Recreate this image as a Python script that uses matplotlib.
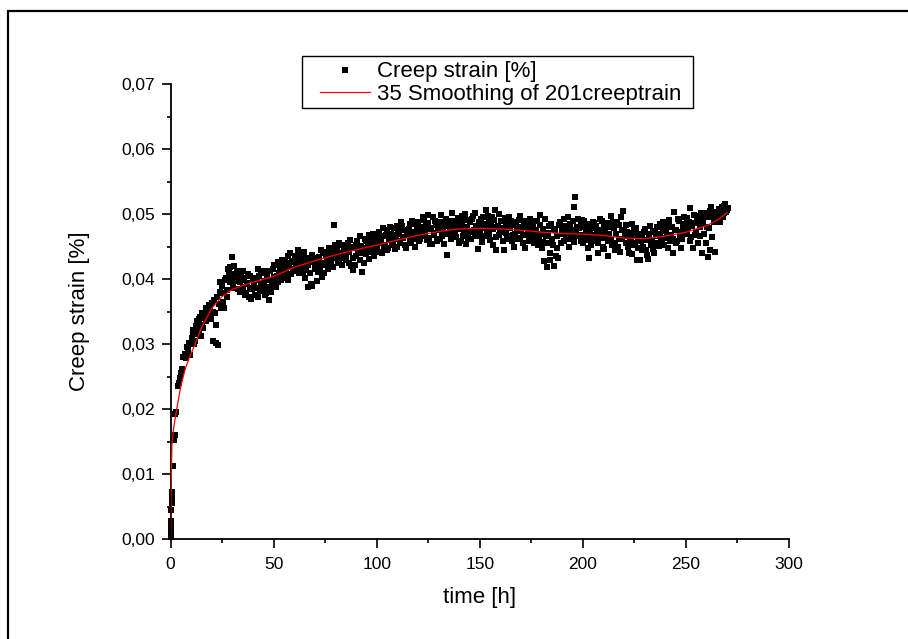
import matplotlib
matplotlib.use("Agg")
import matplotlib.pyplot as plt
from matplotlib.lines import Line2D
from matplotlib.patches import Rectangle
from matplotlib.ticker import MultipleLocator

plt.rcParams['font.family'] = ['Liberation Sans', 'DejaVu Sans']

# ---------------- data ----------------
# readings, first set
time_h = [
    0.0, 0.1, 0.2, 0.3, 0.4, 0.5, 0.6, 0.7, 0.8, 1.2, 1.6, 2.0, 2.4, 2.8, 3.5, 4.0, 4.6, 5.2, 5.8, 6.3,
    6.9, 7.5, 8.0, 8.6, 9.2, 9.7,
    10.3, 11.0, 11.8, 12.5, 13.3, 14.0, 14.8, 15.5, 16.3, 17.0,
    17.8, 18.5, 19.3, 20.0, 20.8, 21.5, 22.3, 23.0, 23.8, 24.5,
    25.3, 26.0, 26.8, 27.5, 28.3, 29.0, 29.8, 30.5, 31.3, 32.0,
    32.8, 33.5, 34.3, 35.0, 35.8, 36.5, 37.3, 38.0, 38.8, 39.5,
    40.3, 41.0, 41.8, 42.5, 43.3, 44.0, 44.8, 45.5, 46.3, 47.0,
    47.8, 48.5, 49.3, 50.0, 50.8, 51.5, 52.3, 53.0, 53.8, 54.5,
    55.3, 56.0, 56.8, 57.5, 58.3, 59.0, 59.8, 60.5, 61.3, 62.0,
    62.8, 63.5, 64.3, 65.0, 65.8, 66.5, 67.3, 68.0, 68.8, 69.5,
    70.3, 71.0, 71.8, 72.5, 73.3, 74.0, 74.8, 75.5, 76.3, 77.0,
    77.8, 78.5, 79.3, 80.0, 80.8, 81.5, 82.3, 83.0, 83.8, 84.5,
    85.3, 86.0, 86.8, 87.5, 88.3, 89.0, 89.8, 90.5, 91.3, 92.0,
    92.8, 93.5, 94.3, 95.0, 95.8, 96.5, 97.3, 98.0, 98.8, 99.5,
    100.3, 101.0, 101.8, 102.5, 103.3, 104.0, 104.8, 105.5, 106.3, 107.0,
    107.8, 108.5, 109.3, 110.0, 110.8, 111.5, 112.3, 113.0, 113.8, 114.5,
    115.3, 116.0, 116.8, 117.5, 118.3, 119.0, 119.8, 120.5, 121.3, 122.0,
    122.8, 123.5, 124.3, 125.0, 125.8, 126.5, 127.3, 128.0, 128.8, 129.5,
    130.3, 131.0, 131.8, 132.5, 133.3, 134.0, 134.8, 135.5, 136.3, 137.0,
    137.8, 138.5, 139.3, 140.0, 140.8, 141.5, 142.3, 143.0, 143.8, 144.5,
    145.3, 146.0, 146.8, 147.5, 148.3, 149.0, 149.8, 150.5, 151.3, 152.0,
    152.8, 153.5, 154.3, 155.0, 155.8, 156.5, 157.3, 158.0, 158.8, 159.5,
    160.3, 161.0, 161.8, 162.5, 163.3, 164.0, 164.8, 165.5, 166.3, 167.0,
    167.8, 168.5, 169.3, 170.0, 170.8, 171.5, 172.3, 173.0, 173.8, 174.5,
    175.3, 176.0, 176.8, 177.5, 178.3, 179.0, 179.8, 180.5, 181.3, 182.0,
    182.8, 183.5, 184.3, 185.0, 185.8, 186.5, 187.3, 188.0, 188.8, 189.5,
    190.3, 191.0, 191.8, 192.5, 193.3, 194.0, 194.8, 195.5, 196.3, 197.0,
    197.8, 198.5, 199.3, 200.0, 200.8, 201.5, 202.3, 203.0, 203.8, 204.5,
    205.3, 206.0, 206.8, 207.5, 208.3, 209.0, 209.8, 210.5, 211.3, 212.0,
    212.8, 213.5, 214.3, 215.0, 215.8, 216.5, 217.3, 218.0, 218.8, 219.5,
    220.3, 221.0, 221.8, 222.5, 223.3, 224.0, 224.8, 225.5, 226.3, 227.0,
    227.8, 228.5, 229.3, 230.0, 230.8, 231.5, 232.3, 233.0, 233.8, 234.5,
    235.3, 236.0, 236.8, 237.5, 238.3, 239.0, 239.8, 240.5, 241.3, 242.0,
    242.8, 243.5, 244.3, 245.0, 245.8, 246.5, 247.3, 248.0, 248.8, 249.5,
    250.3, 251.0, 251.8, 252.5, 253.3, 254.0, 254.8, 255.5, 256.3, 257.0,
    257.8, 258.5, 259.3, 260.0, 260.8, 261.5, 262.3, 263.0, 263.8, 264.5,
    265.3, 266.0, 266.8, 267.5, 268.3, 269.0, 269.8, 270.5,
]

creep_strain = [
    0.0003, 0.0010, 0.0018, 0.0027, 0.0045, 0.0055, 0.0062, 0.0068, 0.0073, 0.0112, 0.0152, 0.0160, 0.0193, 0.0196, 0.0236, 0.0240, 0.0248, 0.0256, 0.0262, 0.0280,
    0.0284, 0.0278, 0.0295, 0.0292, 0.0302, 0.0283,
    0.0310, 0.0318, 0.0305, 0.0324, 0.0316, 0.0338, 0.0312, 0.0330, 0.0345, 0.0336,
    0.0352, 0.0341, 0.0358, 0.0363, 0.0305, 0.0348, 0.0302, 0.0298, 0.0395, 0.0356,
    0.0378, 0.0355, 0.0402, 0.0372, 0.0411, 0.0419, 0.0434, 0.0388, 0.0408, 0.0400,
    0.0385, 0.0395, 0.0410, 0.0387, 0.0402, 0.0378, 0.0392, 0.0373, 0.0405, 0.0384,
    0.0389, 0.0375, 0.0398, 0.0415, 0.0381, 0.0410, 0.0392, 0.0397, 0.0379, 0.0402,
    0.0368, 0.0412, 0.0390, 0.0421, 0.0395, 0.0405, 0.0395, 0.0418, 0.0424, 0.0402,
    0.0430, 0.0412, 0.0435, 0.0420, 0.0408, 0.0426, 0.0415, 0.0433, 0.0418, 0.0430,
    0.0422, 0.0438, 0.0410, 0.0425, 0.0414, 0.0388, 0.0428, 0.0393, 0.0390, 0.0432,
    0.0420, 0.0397, 0.0434, 0.0418, 0.0403, 0.0440, 0.0425, 0.0442, 0.0416, 0.0436,
    0.0428, 0.0445, 0.0483, 0.0432, 0.0448, 0.0425, 0.0440, 0.0452, 0.0436, 0.0444,
    0.0430, 0.0455, 0.0441, 0.0420, 0.0414, 0.0450, 0.0436, 0.0458, 0.0443, 0.0430,
    0.0411, 0.0447, 0.0462, 0.0438, 0.0455, 0.0468, 0.0442, 0.0452, 0.0436, 0.0465,
    0.0448, 0.0472, 0.0456, 0.0440, 0.0466, 0.0453, 0.0475, 0.0447, 0.0460, 0.0470,
    0.0455, 0.0478, 0.0462, 0.0449, 0.0473, 0.0458, 0.0482, 0.0465, 0.0452, 0.0476,
    0.0468, 0.0484, 0.0456, 0.0473, 0.0462, 0.0485, 0.0470, 0.0458, 0.0480, 0.0466,
    0.0491, 0.0472, 0.0460, 0.0486, 0.0454, 0.0478, 0.0495, 0.0468, 0.0483, 0.0462,
    0.0475, 0.0498, 0.0466, 0.0485, 0.0471, 0.0437, 0.0490, 0.0478, 0.0502, 0.0468,
    0.0483, 0.0465, 0.0494, 0.0477, 0.0458, 0.0488, 0.0470, 0.0500, 0.0480, 0.0463,
    0.0487, 0.0472, 0.0497, 0.0468, 0.0482, 0.0446, 0.0478, 0.0492, 0.0465, 0.0485,
    0.0506, 0.0474, 0.0488, 0.0460, 0.0496, 0.0477, 0.0506, 0.0445, 0.0482, 0.0468,
    0.0490, 0.0472, 0.0445, 0.0485, 0.0466, 0.0495, 0.0478, 0.0458, 0.0488, 0.0470,
    0.0483, 0.0462, 0.0497, 0.0474, 0.0455, 0.0490, 0.0468, 0.0480, 0.0459, 0.0486,
    0.0472, 0.0464, 0.0489, 0.0476, 0.0452, 0.0498, 0.0470, 0.0457, 0.0428, 0.0466,
    0.0418, 0.0482, 0.0440, 0.0461, 0.0420, 0.0475, 0.0448, 0.0432, 0.0488, 0.0456,
    0.0470, 0.0492, 0.0462, 0.0478, 0.0449, 0.0484, 0.0466, 0.0511, 0.0526, 0.0480,
    0.0493, 0.0468, 0.0485, 0.0455, 0.0490, 0.0472, 0.0447, 0.0432, 0.0478, 0.0462,
    0.0486, 0.0458, 0.0473, 0.0440, 0.0492, 0.0466, 0.0450, 0.0481, 0.0463, 0.0435,
    0.0470, 0.0497, 0.0453, 0.0478, 0.0445, 0.0488, 0.0461, 0.0442, 0.0475, 0.0504,
    0.0466, 0.0483, 0.0450, 0.0471, 0.0458, 0.0438, 0.0476, 0.0455, 0.0430, 0.0462,
    0.0429, 0.0468, 0.0450, 0.0477, 0.0445, 0.0431, 0.0463, 0.0452, 0.0472, 0.0440,
    0.0466, 0.0480, 0.0451, 0.0470, 0.0459, 0.0487, 0.0463, 0.0474, 0.0448, 0.0482,
    0.0468, 0.0440, 0.0503, 0.0476, 0.0458, 0.0490, 0.0472, 0.0462, 0.0485, 0.0470,
    0.0494, 0.0478, 0.0510, 0.0464, 0.0448, 0.0486, 0.0473, 0.0497, 0.0490, 0.0466,
    0.0440, 0.0492, 0.0502, 0.0480, 0.0434, 0.0445, 0.0511, 0.0496, 0.0487, 0.0503,
    0.0492, 0.0508, 0.0498, 0.0511, 0.0502, 0.0515, 0.0506, 0.0510,
]

# readings, in-between set
time_h_b = [
    10.7, 11.4, 12.2, 12.9, 13.7, 14.4, 15.2, 15.9, 16.7, 17.4,
    18.2, 18.9, 19.7, 20.4, 21.2, 21.9, 22.7, 23.4, 24.2, 24.9,
    25.7, 26.4, 27.2, 27.9, 28.7, 29.4, 30.2, 30.9, 31.7, 32.4,
    33.2, 33.9, 34.7, 35.4, 36.2, 36.9, 37.7, 38.4, 39.2, 39.9,
    40.7, 41.4, 42.2, 42.9, 43.7, 44.4, 45.2, 45.9, 46.7, 47.4,
    48.2, 48.9, 49.7, 50.4, 51.2, 51.9, 52.7, 53.4, 54.2, 54.9,
    55.7, 56.4, 57.2, 57.9, 58.7, 59.4, 60.2, 60.9, 61.7, 62.4,
    63.2, 63.9, 64.7, 65.4, 66.2, 66.9, 67.7, 68.4, 69.2, 69.9,
    70.7, 71.4, 72.2, 72.9, 73.7, 74.4, 75.2, 75.9, 76.7, 77.4,
    78.2, 78.9, 79.7, 80.4, 81.2, 81.9, 82.7, 83.4, 84.2, 84.9,
    85.7, 86.4, 87.2, 87.9, 88.7, 89.4, 90.2, 90.9, 91.7, 92.4,
    93.2, 93.9, 94.7, 95.4, 96.2, 96.9, 97.7, 98.4, 99.2, 99.9,
    100.7, 101.4, 102.2, 102.9, 103.7, 104.4, 105.2, 105.9, 106.7, 107.4,
    108.2, 108.9, 109.7, 110.4, 111.2, 111.9, 112.7, 113.4, 114.2, 114.9,
    115.7, 116.4, 117.2, 117.9, 118.7, 119.4, 120.2, 120.9, 121.7, 122.4,
    123.2, 123.9, 124.7, 125.4, 126.2, 126.9, 127.7, 128.4, 129.2, 129.9,
    130.7, 131.4, 132.2, 132.9, 133.7, 134.4, 135.2, 135.9, 136.7, 137.4,
    138.2, 138.9, 139.7, 140.4, 141.2, 141.9, 142.7, 143.4, 144.2, 144.9,
    145.7, 146.4, 147.2, 147.9, 148.7, 149.4, 150.2, 150.9, 151.7, 152.4,
    153.2, 153.9, 154.7, 155.4, 156.2, 156.9, 157.7, 158.4, 159.2, 159.9,
    160.7, 161.4, 162.2, 162.9, 163.7, 164.4, 165.2, 165.9, 166.7, 167.4,
    168.2, 168.9, 169.7, 170.4, 171.2, 171.9, 172.7, 173.4, 174.2, 174.9,
    175.7, 176.4, 177.2, 177.9, 178.7, 179.4, 180.2, 180.9, 181.7, 182.4,
    183.2, 183.9, 184.7, 185.4, 186.2, 186.9, 187.7, 188.4, 189.2, 189.9,
    190.7, 191.4, 192.2, 192.9, 193.7, 194.4, 195.2, 195.9, 196.7, 197.4,
    198.2, 198.9, 199.7, 200.4, 201.2, 201.9, 202.7, 203.4, 204.2, 204.9,
    205.7, 206.4, 207.2, 207.9, 208.7, 209.4, 210.2, 210.9, 211.7, 212.4,
    213.2, 213.9, 214.7, 215.4, 216.2, 216.9, 217.7, 218.4, 219.2, 219.9,
    220.7, 221.4, 222.2, 222.9, 223.7, 224.4, 225.2, 225.9, 226.7, 227.4,
    228.2, 228.9, 229.7, 230.4, 231.2, 231.9, 232.7, 233.4, 234.2, 234.9,
    235.7, 236.4, 237.2, 237.9, 238.7, 239.4, 240.2, 240.9, 241.7, 242.4,
    243.2, 243.9, 244.7, 245.4, 246.2, 246.9, 247.7, 248.4, 249.2, 249.9,
    250.7, 251.4, 252.2, 252.9, 253.7, 254.4, 255.2, 255.9, 256.7, 257.4,
    258.2, 258.9, 259.7, 260.4, 261.2, 261.9, 262.7, 263.4, 264.2, 264.9,
    265.7, 266.4, 267.2, 267.9, 268.7, 269.4,
]

creep_strain_b = [
    0.0322, 0.0300, 0.0328, 0.0335, 0.0320, 0.0342, 0.0348, 0.0325, 0.0340, 0.0355,
    0.0345, 0.0360, 0.0338, 0.0350, 0.0368, 0.0330, 0.0372, 0.0361, 0.0380, 0.0390,
    0.0365, 0.0398, 0.0383, 0.0415, 0.0395, 0.0405, 0.0386, 0.0420, 0.0397, 0.0412,
    0.0402, 0.0380, 0.0398, 0.0413, 0.0376, 0.0394, 0.0408, 0.0386, 0.0370, 0.0398,
    0.0402, 0.0386, 0.0372, 0.0404, 0.0390, 0.0384, 0.0412, 0.0376, 0.0407, 0.0388,
    0.0398, 0.0380, 0.0415, 0.0403, 0.0388, 0.0426, 0.0410, 0.0398, 0.0430, 0.0416,
    0.0405, 0.0425, 0.0398, 0.0440, 0.0428, 0.0412, 0.0436, 0.0422, 0.0445, 0.0410,
    0.0430, 0.0416, 0.0442, 0.0402, 0.0433, 0.0421, 0.0410, 0.0437, 0.0426, 0.0415,
    0.0432, 0.0411, 0.0426, 0.0444, 0.0422, 0.0409, 0.0437, 0.0428, 0.0447, 0.0420,
    0.0438, 0.0418, 0.0452, 0.0440, 0.0427, 0.0456, 0.0433, 0.0421, 0.0449, 0.0438,
    0.0447, 0.0425, 0.0460, 0.0448, 0.0433, 0.0422, 0.0453, 0.0440, 0.0466, 0.0451,
    0.0440, 0.0425, 0.0458, 0.0447, 0.0431, 0.0461, 0.0450, 0.0470, 0.0444, 0.0457,
    0.0465, 0.0441, 0.0459, 0.0478, 0.0450, 0.0468, 0.0444, 0.0462, 0.0480, 0.0453,
    0.0468, 0.0446, 0.0482, 0.0470, 0.0455, 0.0488, 0.0463, 0.0475, 0.0448, 0.0469,
    0.0477, 0.0460, 0.0490, 0.0465, 0.0449, 0.0475, 0.0487, 0.0461, 0.0473, 0.0495,
    0.0466, 0.0481, 0.0499, 0.0463, 0.0477, 0.0454, 0.0471, 0.0489, 0.0458, 0.0480,
    0.0461, 0.0487, 0.0479, 0.0454, 0.0493, 0.0470, 0.0482, 0.0462, 0.0489, 0.0475,
    0.0470, 0.0490, 0.0456, 0.0484, 0.0497, 0.0466, 0.0479, 0.0454, 0.0491, 0.0473,
    0.0461, 0.0493, 0.0476, 0.0502, 0.0466, 0.0488, 0.0473, 0.0457, 0.0495, 0.0478,
    0.0466, 0.0497, 0.0470, 0.0483, 0.0453, 0.0491, 0.0464, 0.0480, 0.0500, 0.0474,
    0.0479, 0.0458, 0.0494, 0.0471, 0.0482, 0.0461, 0.0490, 0.0468, 0.0450, 0.0485,
    0.0474, 0.0491, 0.0463, 0.0480, 0.0468, 0.0447, 0.0484, 0.0472, 0.0493, 0.0463,
    0.0480, 0.0455, 0.0471, 0.0490, 0.0462, 0.0483, 0.0448, 0.0477, 0.0493, 0.0455,
    0.0471, 0.0430, 0.0485, 0.0452, 0.0477, 0.0436, 0.0466, 0.0483, 0.0455, 0.0475,
    0.0458, 0.0481, 0.0470, 0.0495, 0.0462, 0.0476, 0.0490, 0.0457, 0.0472, 0.0466,
    0.0478, 0.0458, 0.0491, 0.0468, 0.0480, 0.0460, 0.0485, 0.0470, 0.0452, 0.0488,
    0.0468, 0.0482, 0.0455, 0.0475, 0.0463, 0.0490, 0.0446, 0.0472, 0.0486, 0.0459,
    0.0480, 0.0462, 0.0487, 0.0456, 0.0470, 0.0450, 0.0483, 0.0495, 0.0462, 0.0476,
    0.0455, 0.0473, 0.0440, 0.0463, 0.0485, 0.0452, 0.0468, 0.0478, 0.0447, 0.0470,
    0.0458, 0.0445, 0.0472, 0.0460, 0.0437, 0.0469, 0.0481, 0.0458, 0.0446, 0.0474,
    0.0455, 0.0470, 0.0484, 0.0462, 0.0476, 0.0453, 0.0480, 0.0466, 0.0491, 0.0458,
    0.0480, 0.0462, 0.0475, 0.0456, 0.0493, 0.0467, 0.0447, 0.0480, 0.0496, 0.0478,
    0.0470, 0.0488, 0.0458, 0.0482, 0.0499, 0.0468, 0.0492, 0.0455, 0.0480, 0.0501,
    0.0485, 0.0470, 0.0456, 0.0496, 0.0478, 0.0505, 0.0464, 0.0490, 0.0442, 0.0498,
    0.0500, 0.0488, 0.0506, 0.0496, 0.0512, 0.0503,
]

smooth_time_h = [0, 0.3, 0.7, 1.5, 3, 5, 7, 9, 12, 15, 20, 25, 30, 35, 40, 50, 60, 70, 80, 90,
                 100, 110, 120, 130, 140, 150, 160, 170, 180, 190, 200, 210, 220, 230, 240,
                 250, 260, 265, 270]
smooth_strain = [0.0, 0.0080, 0.0145, 0.0170, 0.0200, 0.0235, 0.0260, 0.0278, 0.0300, 0.0325,
                 0.0355, 0.0373, 0.0384, 0.0390, 0.0395, 0.0404, 0.0418, 0.0428, 0.0437, 0.0445,
                 0.0452, 0.0460, 0.0467, 0.0473, 0.0477, 0.0478, 0.0477, 0.0475, 0.0472, 0.0470,
                 0.0469, 0.0467, 0.0463, 0.0462, 0.0466, 0.0472, 0.0482, 0.0490, 0.0502]

x_ticks = [0, 50, 100, 150, 200, 250, 300]
y_ticks = [0.00, 0.01, 0.02, 0.03, 0.04, 0.05, 0.06, 0.07]
y_tick_labels = ["0,00", "0,01", "0,02", "0,03", "0,04", "0,05", "0,06", "0,07"]

series_labels = ["Creep strain [%]", "35 Smoothing of 201creeptrain"]

# ---------------- figure ----------------
W, H = 908, 639
fig = plt.figure(figsize=(W / 100, H / 100), dpi=100)
fig.patch.set_facecolor('white')

def fx(px):
    return px / W

def fy(py):
    return 1 - py / H

ax_left, ax_right, ax_top, ax_bottom = 170.5, 789.0, 84.0, 539.0
ax = fig.add_axes([fx(ax_left), fy(ax_bottom), (ax_right - ax_left) / W, (ax_bottom - ax_top) / H])

all_time = time_h + time_h_b
all_strain = creep_strain + creep_strain_b
ax.plot(all_time, all_strain, linestyle='none', marker='s', markersize=4.2,
        color='black', markeredgewidth=0, clip_on=False, zorder=3)
ax.plot(smooth_time_h, smooth_strain, color='#ff0000', linewidth=0.9, zorder=4)

ax.set_xlim(0, 300)
ax.set_ylim(0, 0.07)
ax.set_xticks(x_ticks)
ax.set_xticklabels([str(v) for v in x_ticks])
ax.set_yticks(y_ticks)
ax.set_yticklabels(y_tick_labels)
ax.xaxis.set_minor_locator(MultipleLocator(25))
ax.yaxis.set_minor_locator(MultipleLocator(0.005))

for s in ['top', 'right']:
    ax.spines[s].set_visible(False)
for s in ['left', 'bottom']:
    ax.spines[s].set_linewidth(1.3)

ax.tick_params(which='major', direction='out', length=6.2, width=1.2, labelsize=12.5)
ax.tick_params(which='minor', direction='out', length=3.2, width=1.2)
ax.tick_params(axis='y', which='major', pad=5)
ax.tick_params(axis='x', which='major', pad=6.5)

# axis titles
fig.text(fx(480), fy(598), "time [h]", ha='center', va='center', fontsize=16)
fig.text(fx(80), fy(311.5), "Creep strain [%]", ha='center', va='center',
         rotation=90, fontsize=16)

# legend (entries via real legend, frame drawn to match the reference box)
h1 = Line2D([], [], linestyle='none', marker='s', markersize=4.1, color='black', markeredgewidth=0)
h2 = Line2D([], [], color='#ff0000', linewidth=0.9)
leg = ax.legend([h1, h2], series_labels, loc='upper left',
                bbox_to_anchor=(fx(320), fy(61.5)), bbox_transform=fig.transFigure,
                frameon=False, borderpad=0, borderaxespad=0, handlelength=2.25,
                handletextpad=0.3, labelspacing=0.05, numpoints=1, fontsize=16)

fig.add_artist(Rectangle((fx(301.7), fy(108)), (693 - 301.7) / W, (108 - 55.7) / H,
                         transform=fig.transFigure, fill=False, edgecolor='black',
                         linewidth=1.0, zorder=5))

# outer frame of the picture
fig.add_artist(Rectangle((fx(7.5), -0.05), 1.2, fy(10.7) + 0.05,
                         transform=fig.transFigure, fill=False, edgecolor='black',
                         linewidth=1.6, zorder=10, clip_on=False))

fig.savefig('out.png', dpi=100)
